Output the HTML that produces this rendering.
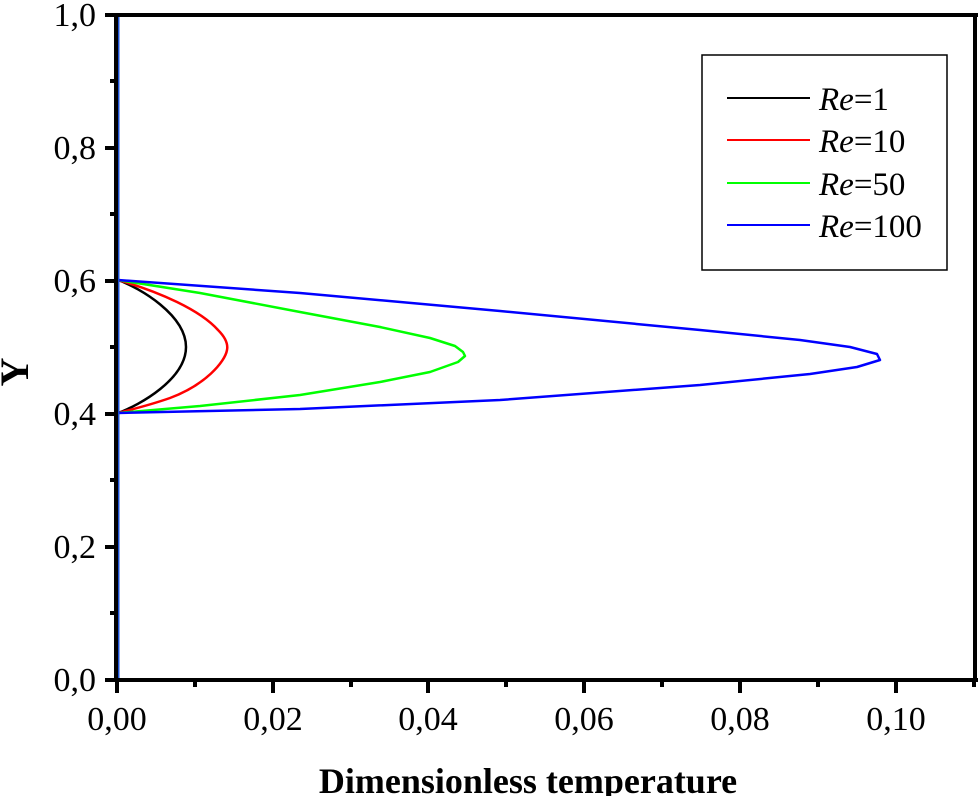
<!DOCTYPE html>
<html><head><style>body{margin:0;background:#fff}</style></head><body>
<svg width="978" height="796" xmlns="http://www.w3.org/2000/svg" font-family="Liberation Serif, serif">
<rect width="978" height="796" fill="#fff"/>
<g fill="none" stroke-width="2.5" stroke-linejoin="round">
<path d="M118,280 C140,288 186,315 186,347 C186,379 140,405 118,413" stroke="#000"/>
<path d="M118,280 C160,292 200,310 218,330 C226,338 228,345 227,350 C225,362 205,385 170,398 C150,405 130,410 118,413" stroke="#f00"/>
<path d="M118,280 L200,293 L300,312 L380,327 L430,338 L455,346 L463,352 L465,356 L458,362 L430,372 L380,382 L300,395 L200,406 L118,413" stroke="#0f0"/>
<path d="M118,280 L300,293 L500,311 L700,330 L800,340 L850,347 L877,354 L880,360 L857,367 L810,374 L700,385 L500,400 L300,409 L118,413" stroke="#00f"/>
<line x1="118" y1="15" x2="118" y2="680" stroke="#1a4fd0" stroke-width="3"/>
</g>
<g stroke="#000" stroke-width="4">
<line x1="105" y1="15" x2="978" y2="15"/>
<line x1="116" y1="15" x2="116" y2="682"/>
<line x1="105" y1="680" x2="978" y2="680"/>
<line x1="975" y1="15" x2="975" y2="682"/>
</g>
<g stroke="#000" stroke-width="4">
<line x1="105" y1="148" x2="116" y2="148"/><line x1="105" y1="281" x2="116" y2="281"/><line x1="105" y1="414" x2="116" y2="414"/><line x1="105" y1="547" x2="116" y2="547"/>
<line x1="110" y1="81" x2="116" y2="81"/><line x1="110" y1="214" x2="116" y2="214"/><line x1="110" y1="347" x2="116" y2="347"/><line x1="110" y1="480" x2="116" y2="480"/><line x1="110" y1="613" x2="116" y2="613"/>
<line x1="117" y1="680" x2="117" y2="693"/><line x1="273" y1="680" x2="273" y2="693"/><line x1="428" y1="680" x2="428" y2="693"/><line x1="584" y1="680" x2="584" y2="693"/><line x1="740" y1="680" x2="740" y2="693"/><line x1="896" y1="680" x2="896" y2="693"/>
<line x1="195" y1="680" x2="195" y2="687"/><line x1="351" y1="680" x2="351" y2="687"/><line x1="506" y1="680" x2="506" y2="687"/><line x1="662" y1="680" x2="662" y2="687"/><line x1="818" y1="680" x2="818" y2="687"/><line x1="974" y1="680" x2="974" y2="687"/>
</g>
<g font-size="34" text-anchor="end">
<text x="96" y="26">1,0</text><text x="96" y="159">0,8</text><text x="96" y="292">0,6</text><text x="96" y="425">0,4</text><text x="96" y="558">0,2</text><text x="96" y="691">0,0</text>
</g>
<g font-size="34" text-anchor="middle">
<text x="117" y="730">0,00</text><text x="273" y="730">0,02</text><text x="428" y="730">0,04</text><text x="584" y="730">0,06</text><text x="740" y="730">0,08</text><text x="896" y="730">0,10</text>
</g>
<text x="528" y="793" font-size="36" font-weight="bold" text-anchor="middle">Dimensionless temperature</text>
<text transform="translate(28,372) rotate(-90)" font-size="40" font-weight="bold" text-anchor="middle">Y</text>
<rect x="702" y="55" width="245" height="215" fill="#fff" stroke="#000" stroke-width="1.5"/>
<g stroke-width="2">
<line x1="727" y1="98" x2="810" y2="98" stroke="#000"/>
<line x1="727" y1="140" x2="810" y2="140" stroke="#f00"/>
<line x1="727" y1="183" x2="810" y2="183" stroke="#0f0"/>
<line x1="727" y1="225" x2="810" y2="225" stroke="#00f"/>
</g>
<g font-size="33">
<text x="819" y="110"><tspan font-style="italic">Re</tspan>=1</text>
<text x="819" y="152"><tspan font-style="italic">Re</tspan>=10</text>
<text x="819" y="195"><tspan font-style="italic">Re</tspan>=50</text>
<text x="819" y="237"><tspan font-style="italic">Re</tspan>=100</text>
</g>
</svg>
</body></html>
